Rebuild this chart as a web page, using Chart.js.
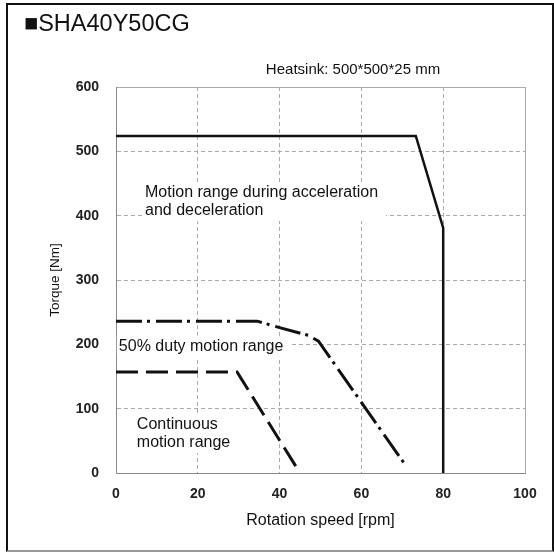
<!DOCTYPE html>
<html>
<head>
<meta charset="utf-8">
<script src="https://cdn.jsdelivr.net/npm/chart.js@4/dist/chart.umd.min.js"></script>
<style>
  html, body { margin: 0; padding: 0; background: #fff; }
  #frame { position: absolute; left: 6px; top: 3px; width: 548px; height: 549px; box-sizing: border-box;
           border: 2px solid #111; border-bottom-color: #999; }
  #wrap { position: absolute; left: 0; top: 0; width: 554px; height: 552px; }
</style>
</head>
<body>
<div id="frame"></div>
<div id="wrap"><canvas id="torquechart" width="554" height="552"></canvas></div>
<script>
// rotation speed [rpm] / torque [Nm]
const accelSpeed = [0, 73.3, 80, 80];
const accelTorque = [524, 524, 381, 0];
const dutySpeed = [0, 34.5, 40, 47, 49.5, 70.8];
const dutyTorque = [236, 236, 226, 214, 205, 12];
const contSpeed = [0, 29.6, 44.6];
const contTorque = [157, 157, 4];

const xTicks = [0, 20, 40, 60, 80, 100];
const yTicks = [0, 100, 200, 300, 400, 500, 600];

// text labels inside the plot: [speed, torque of first baseline, lines]
const regionLabels = [
  [7.1, 429, ['Motion range during acceleration', 'and deceleration']],
  [0.7, 190, ['50% duty motion range']],
  [5.1, 68, ['Continuous', 'motion range']]
];

function pts(xs, ys) {
  return xs.map((x, i) => ({x: x, y: ys[i]}));
}

const textPlugin = {
  id: 'texts',
  beforeDatasetsDraw(chart) {
    const c = chart.ctx;
    const xs = chart.scales.x, ys = chart.scales.y;
    c.save();
    c.font = '16px "Liberation Sans", Arial, sans-serif';
    c.textBaseline = 'alphabetic';
    regionLabels.forEach(l => {
      const px = xs.getPixelForValue(l[0]);
      const py = ys.getPixelForValue(l[1]);
      let w = 0;
      l[2].forEach(t => { w = Math.max(w, c.measureText(t).width); });
      c.fillStyle = '#fff';
      c.fillRect(px - 2, py - 15, w + 10, 18 * l[2].length + 3);
      c.fillStyle = '#111';
      l[2].forEach((t, i) => c.fillText(t, px, py + i * 18));
    });
    c.restore();
  },
  afterDraw(chart) {
    const c = chart.ctx;
    c.save();
    c.fillStyle = '#111';
    c.font = '23.5px "Liberation Sans", Arial, sans-serif';
    c.textAlign = 'left';
    c.fillText('\u25A0SHA40Y50CG', 24, 31);
    c.font = '15px "Liberation Sans", Arial, sans-serif';
    c.textAlign = 'center';
    c.fillText('Heatsink: 500*500*25 mm', 353, 74);
    c.restore();
  }
};

const ctx = document.getElementById('torquechart');
new Chart(ctx, {
  type: 'scatter',
  data: {
    datasets: [
      {
        label: 'Acceleration / deceleration',
        data: pts(accelSpeed, accelTorque),
        showLine: true, borderColor: '#111', borderWidth: 2.5, pointRadius: 0, fill: false
      },
      {
        label: '50% duty',
        data: pts(dutySpeed, dutyTorque),
        showLine: true, borderColor: '#111', borderWidth: 3, borderDash: [26, 5, 3, 6], pointRadius: 0, fill: false
      },
      {
        label: 'Continuous',
        data: pts(contSpeed, contTorque),
        showLine: true, borderColor: '#111', borderWidth: 3, borderDash: [22, 8], pointRadius: 0, fill: false
      }
    ]
  },
  options: {
    responsive: false,
    animation: false,
    layout: { padding: { left: 0, top: 87, right: 29, bottom: 0 } },
    plugins: { legend: { display: false }, tooltip: { enabled: false } },
    scales: {
      x: {
        type: 'linear', min: 0, max: 100,
        afterBuildTicks: s => { s.ticks = xTicks.map(v => ({value: v})); },
        afterFit: s => { s.height = 79; },
        ticks: { padding: 13, color: '#222', font: { family: '"Liberation Sans", Arial', size: 14, weight: 'bold' } },
        grid: { color: '#aaa', lineWidth: 1, drawTicks: false },
        border: { color: '#888', width: 1, dash: c => (c.tick && c.tick.value === 100 ? [] : [4, 3]) },
        title: { display: true, text: 'Rotation speed [rpm]', color: '#111',
                 font: { family: '"Liberation Sans", Arial', size: 16 }, padding: { top: 0, bottom: 22 } }
      },
      y: {
        type: 'linear', min: 0, max: 600,
        afterBuildTicks: s => { s.ticks = yTicks.map(v => ({value: v})); },
        afterFit: s => { s.width = 116; },
        ticks: { padding: 17, color: '#222', font: { family: '"Liberation Sans", Arial', size: 14, weight: 'bold' } },
        grid: { color: '#aaa', lineWidth: 1, drawTicks: false },
        border: { color: '#888', width: 1, dash: c => (c.tick && c.tick.value === 600 ? [] : [4, 3]) },
        title: { display: true, text: 'Torque [Nm]', color: '#111',
                 font: { family: '"Liberation Sans", Arial', size: 13.5 }, padding: { top: 47, bottom: 0 } }
      }
    }
  },
  plugins: [textPlugin]
});
</script>
</body>
</html>
